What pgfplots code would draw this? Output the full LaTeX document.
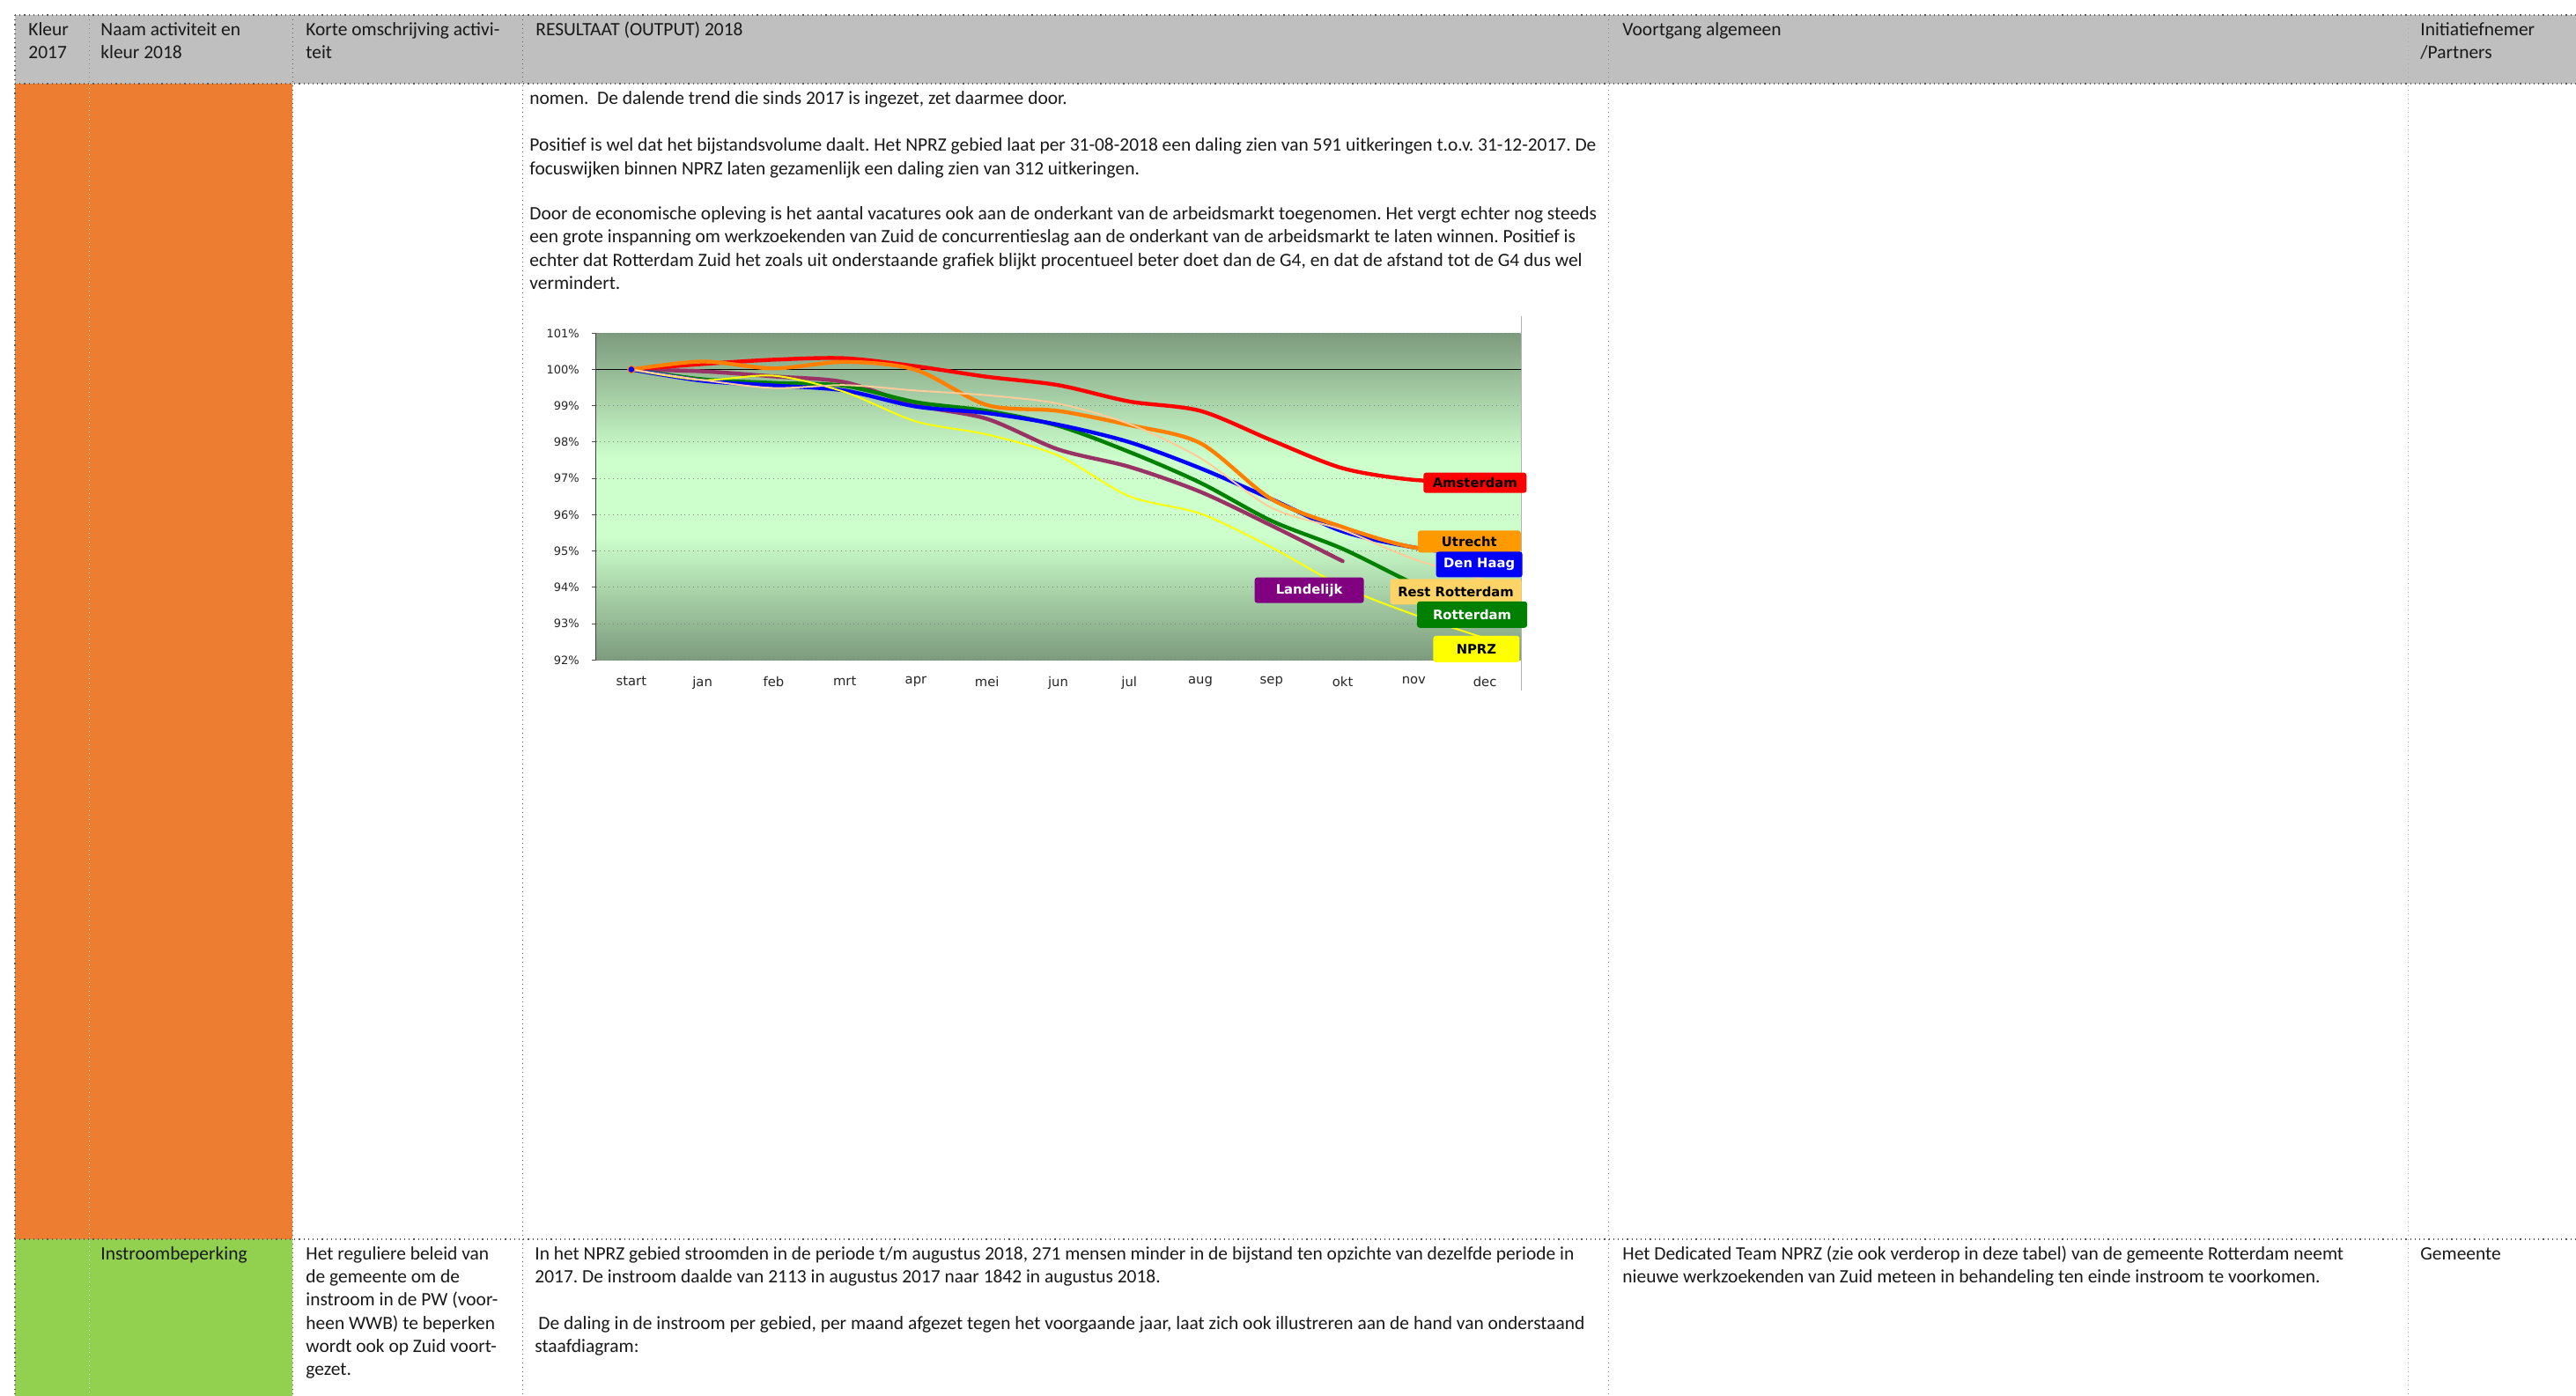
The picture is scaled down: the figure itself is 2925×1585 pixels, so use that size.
\documentclass[border=0pt]{standalone}
\usepackage{pgfplots}
\pgfplotsset{compat=1.18}
\usepackage{fontspec}
\setmainfont{Carlito}
\newfontfamily\chartfont{DejaVu Sans}
\definecolor{hdr}{RGB}{191,191,191}
\definecolor{orng}{RGB}{237,125,49}
\definecolor{grn}{RGB}{146,208,80}
\definecolor{linegray}{RGB}{90,90,90}
\definecolor{bgdark}{RGB}{125,155,125}
\definecolor{bglight}{RGB}{204,255,204}
\definecolor{cAms}{RGB}{255,0,0}
\definecolor{cUtr}{RGB}{255,128,0}
\definecolor{cUtrL}{RGB}{255,153,0}
\definecolor{cDH}{RGB}{0,0,255}
\definecolor{cRot}{RGB}{0,128,0}
\definecolor{cLan}{RGB}{153,51,102}
\definecolor{cLanL}{RGB}{128,0,128}
\definecolor{cRR}{RGB}{255,204,153}
\definecolor{cRRL}{RGB}{255,212,102}
\definecolor{cNP}{RGB}{255,255,0}
\pgfdeclareverticalshading{chartbg}{100bp}{color(0bp)=(bgdark); color(25bp)=(bgdark); color(44bp)=(bglight); color(56bp)=(bglight); color(75bp)=(bgdark); color(100bp)=(bgdark)}
\newcommand{\tabfont}{\frenchspacing\fontsize{10.72pt}{12pt}\selectfont}
\newcommand{\T}[3]{\node[anchor=base west, inner sep=0pt, font=\tabfont, text=black!90] at (#1,#2) {#3};}
\tikzset{lbl/.style={rounded corners=1.5pt, inner sep=0pt, font=\chartfont\bfseries\fontsize{7.4pt}{8pt}\selectfont, align=center}}
\begin{document}
\begin{tikzpicture}
\begin{scope}[x=0.5pt,y=-0.5pt]
\path[fill=white, use as bounding box] (0,0) rectangle (2925,1585);
\fill[hdr] (17,17) rectangle (2925,95);
\fill[orng] (17,95) rectangle (332,1407);
\fill[grn] (17,1407) rectangle (332,1585);
% horizontal lines
\draw[linegray, dotted, line width=0.6pt] (17,17) -- (2925,17);
\draw[linegray, dotted, line width=0.6pt] (17,95) -- (2925,95);
\draw[linegray, dotted, line width=0.6pt] (17,1407) -- (2925,1407);
% vertical lines
\draw[linegray, dotted, line width=0.6pt] (17,17) -- (17,1585);
\draw[gray, dotted, line width=0.5pt] (101,17) -- (101,95);
\draw[white, dotted, line width=0.5pt] (101,95) -- (101,1585);
\draw[linegray, dotted, line width=0.5pt] (332,17) -- (332,1585);
\draw[linegray, dotted, line width=0.5pt] (593,17) -- (593,1585);
\draw[gray, dotted, line width=0.5pt] (1826,17) -- (1826,1585);
\draw[gray!70, dotted, line width=0.5pt] (2734,17) -- (2734,1585);
% chart frame right edge
\draw[gray!60, line width=0.6pt] (1727.5,359) -- (1727.5,784);
% header text
\T{32}{40.5}{Kleur}
\T{32}{66.5}{2017}
\T{114}{40.5}{Naam activiteit en}
\T{114}{66.5}{kleur 2018}
\T{347}{40.5}{Korte omschrijving activi-}
\T{347}{66.5}{teit}
\T{608}{40.5}{RESULTAAT (OUTPUT) 2018}
\T{1842}{40.5}{Voortgang algemeen}
\T{2748}{40.5}{Initiatiefnemer}
\T{2748}{66.5}{/Partners}
% orange row text
\T{601}{118.5}{nomen.\ \ De dalende trend die sinds 2017 is ingezet, zet daarmee door.}
\T{601}{171.5}{Positief is wel dat het bijstandsvolume daalt. Het NPRZ gebied laat per 31-08-2018 een daling zien van 591 uitkeringen t.o.v. 31-12-2017. De}
\T{601}{198.5}{focuswijken binnen NPRZ laten gezamenlijk een daling zien van 312 uitkeringen.}
\T{601}{249.5}{Door de economische opleving is het aantal vacatures ook aan de onderkant van de arbeidsmarkt toegenomen. Het vergt echter nog steeds}
\T{601}{275.5}{een grote inspanning om werkzoekenden van Zuid de concurrentieslag aan de onderkant van de arbeidsmarkt te laten winnen. Positief is}
\T{601}{302.5}{echter dat Rotterdam Zuid het zoals uit onderstaande grafiek blijkt procentueel beter doet dan de G4, en dat de afstand tot de G4 dus wel}
\T{601}{328.5}{vermindert.}
% green row text
\T{114}{1430.5}{Instroombeperking}
\T{347}{1430.5}{Het reguliere beleid van}
\T{347}{1456.5}{de gemeente om de}
\T{347}{1482.5}{instroom in de PW (voor-}
\T{347}{1509.5}{heen WWB) te beperken}
\T{347}{1535.5}{wordt ook op Zuid voort-}
\T{347}{1561.5}{gezet.}
\T{607}{1430.5}{In het NPRZ gebied stroomden in de periode t/m augustus 2018, 271 mensen minder in de bijstand ten opzichte van dezelfde periode in}
\T{607}{1456.5}{2017. De instroom daalde van 2113 in augustus 2017 naar 1842 in augustus 2018.}
\T{611}{1509.5}{De daling in de instroom per gebied, per maand afgezet tegen het voorgaande jaar, laat zich ook illustreren aan de hand van onderstaand}
\T{607}{1535.5}{staafdiagram:}
\T{1842}{1430.5}{Het Dedicated Team NPRZ (zie ook verderop in deze tabel) van de gemeente Rotterdam neemt}
\T{1842}{1456.5}{nieuwe werkzoekenden van Zuid meteen in behandeling ten einde instroom te voorkomen.}
\T{2748}{1430.5}{Gemeente}
\end{scope}
\begin{axis}[
  at={(338.25pt,-189.15pt)}, anchor=north west,
  width=525pt, height=185.5pt, scale only axis,
  xmin=-0.5, xmax=12.5, ymin=92, ymax=101,
  clip=false,
  axis background/.style={shading=chartbg},
  axis line style={draw=none},
  xtick={0,...,12},
  xticklabels={start,jan,feb,mrt,apr,mei,jun,jul,aug,sep,okt,nov,dec},
  ytick={92,...,101},
  yticklabels={92\%,93\%,94\%,95\%,96\%,97\%,98\%,99\%,100\%,101\%},
  xtick style={draw=none},
  ytick style={draw=black!70, line width=0.5pt},
  tick align=outside, major tick length=2.5pt,
  ytick pos=left,
  ymajorgrids, major grid style={dotted, gray, line width=0.5pt},
  xticklabel style={font=\chartfont\fontsize{7.4pt}{8pt}\selectfont, text=black!85, yshift=-3.2pt},
  yticklabel style={font=\chartfont\fontsize{6.5pt}{7pt}\selectfont, text=black!85, xshift=-3.3pt},
  every axis plot/.append style={smooth, tension=0.5, line join=round, line cap=round},
]
\addplot[black, line width=0.9pt, sharp plot] coordinates {(-0.5,100) (12.5,100)};
\draw[black!75, line width=0.7pt] (rel axis cs:0,0) -- (rel axis cs:0,1);
% Landelijk
\addplot[cLan, line width=2.2pt] coordinates {(0,100) (1,99.95) (2,99.81) (3,99.65) (4,99.02) (5,98.64) (6,97.80) (7,97.32) (8,96.63) (9,95.70) (10,94.72)};
% Rotterdam
\addplot[cRot, line width=2.2pt] coordinates {(0,100) (1,99.73) (2,99.63) (3,99.55) (4,99.10) (5,98.86) (6,98.45) (7,97.73) (8,96.88) (9,95.83) (10,95.06) (11,94.10) (12,93.25)};
% Den Haag
\addplot[cDH, line width=2.2pt] coordinates {(0,100) (1,99.69) (2,99.56) (3,99.42) (4,98.98) (5,98.80) (6,98.48) (7,98.0) (8,97.28) (9,96.43) (10,95.54) (11,95.10) (12,94.84)};
% Amsterdam
\addplot[cAms, line width=2.2pt] coordinates {(0,100) (1,100.15) (2,100.27) (3,100.31) (4,100.09) (5,99.80) (6,99.57) (7,99.12) (8,98.86) (9,98.05) (10,97.28) (11,96.96) (12,96.9)};
% Utrecht
\addplot[cUtr, line width=2.2pt] coordinates {(0,100) (1,100.22) (2,100.03) (3,100.21) (4,99.99) (5,99.02) (6,98.86) (7,98.47) (8,97.97) (9,96.43) (10,95.66) (11,95.10) (12,95.0)};
% NPRZ
\addplot[cNP, line width=1pt] coordinates {(0,100) (1,99.71) (2,99.83) (3,99.38) (4,98.57) (5,98.21) (6,97.63) (7,96.51) (8,96.03) (9,95.10) (10,94.02) (11,93.25) (12,92.6)};
% Rest Rotterdam
\addplot[cRR, line width=1pt] coordinates {(0,100) (1,99.71) (2,99.49) (3,99.57) (4,99.42) (5,99.29) (6,99.06) (7,98.50) (8,97.56) (9,96.19) (10,95.58) (11,94.78) (12,94.2)};
\addplot[only marks, mark=*, mark size=2pt, mark options={fill=cDH, draw=cUtr, line width=0.5pt}] coordinates {(0,100)};
\node[lbl, fill=cAms, text=black, minimum width=58.5pt, minimum height=11.5pt] at (axis cs:11.86,96.88) {Amsterdam};
\node[lbl, fill=cUtrL, text=black, minimum width=58.5pt, minimum height=12.5pt] at (axis cs:11.78,95.26) {Utrecht};
\node[lbl, fill=cDH, text=white, minimum width=49pt, minimum height=14.5pt] at (axis cs:11.92,94.63) {Den Haag};
\node[lbl, fill=cRRL, text=black, minimum width=74.5pt, minimum height=14.5pt] at (axis cs:11.59,93.88) {Rest Rotterdam};
\node[lbl, fill=cRot, text=white, minimum width=62.5pt, minimum height=15pt] at (axis cs:11.82,93.25) {Rotterdam};
\node[lbl, fill=cNP, text=black, minimum width=49pt, minimum height=15pt] at (axis cs:11.88,92.30) {NPRZ};
\node[lbl, fill=cLanL, text=white, minimum width=62pt, minimum height=14.5pt] at (axis cs:9.53,93.92) {Landelijk};
\end{axis}
\end{tikzpicture}
\end{document}
